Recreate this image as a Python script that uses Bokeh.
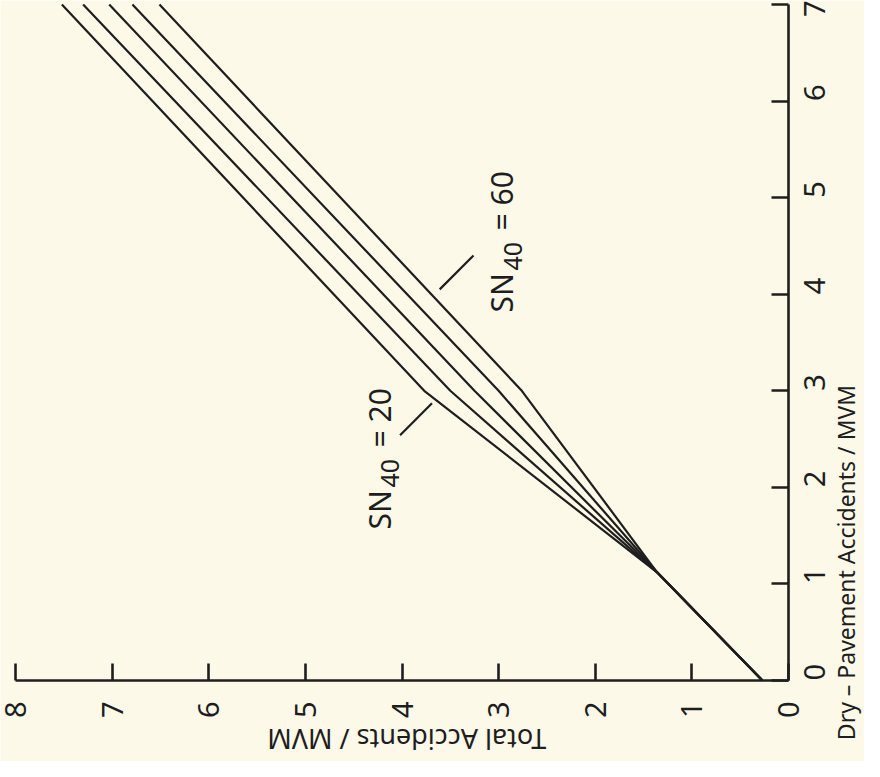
import math
from bokeh.plotting import figure
from bokeh.models import Range1d, FixedTicker, Label, ColumnDataSource
from bokeh.embed import file_html
from bokeh.resources import INLINE

# ---- data ----
dry_points = [0.0, 1.12, 3.0, 7.0]          # Dry-pavement accidents / MVM
sn_levels = ["20", "30", "40", "50", "60"]  # SN40 values
total_sn20 = [0.27, 1.36, 3.77, 7.52]       # Total accidents / MVM
total_sn30 = [0.27, 1.36, 3.50, 7.30]
total_sn40 = [0.27, 1.36, 3.25, 7.03]
total_sn50 = [0.27, 1.36, 3.00, 6.79]
total_sn60 = [0.27, 1.36, 2.76, 6.51]
total_ticks = [0, 1, 2, 3, 4, 5, 6, 7, 8]
dry_ticks = [0, 1, 2, 3, 4, 5, 6, 7]

BG = "#FDF9E8"
INK = "#1E1E1E"
FONT = "Noto Sans"

W, H = 864, 761
# pixel layout of the axes inside the canvas (canvas starts at page 8,8)
X_TOT8, X_TOT0 = 15, 788      # canvas x of total=8 and total=0
Y_DRY7, Y_DRY0 = 4, 680       # canvas y of dry=7 and dry=0
kx = (X_TOT0 - X_TOT8) / 8.0
ky = (Y_DRY0 - Y_DRY7) / 7.0
x_start = 8 + X_TOT8 / kx
x_end = -(W - X_TOT0) / kx
y_end = 7 + Y_DRY7 / ky
y_start = -(H - Y_DRY0) / ky

# chart is drawn rotated 90 deg CCW: horizontal = total (reversed), vertical = dry
p = figure(width=W, height=H,
           x_range=Range1d(x_start, x_end), y_range=Range1d(y_start, y_end),
           x_axis_location="below", y_axis_location="right",
           output_backend="svg", toolbar_location=None,
           min_border=0, min_border_left=0, min_border_right=0,
           min_border_top=0, min_border_bottom=0)
p.background_fill_color = BG
p.border_fill_color = BG
p.outline_line_color = None
p.xgrid.visible = False
p.ygrid.visible = False

p.xaxis[0].fixed_location = 0
p.xaxis[0].bounds = (0, 8)
p.yaxis[0].fixed_location = 0
p.yaxis[0].bounds = (0, 7)

for ax, ticks, standoff in ((p.xaxis[0], total_ticks, 21), (p.yaxis[0], dry_ticks, 26)):
    ax.ticker = FixedTicker(ticks=ticks)
    ax.axis_line_width = 2.6
    ax.axis_line_color = INK
    ax.major_tick_in = 17
    ax.major_tick_out = 0
    ax.major_tick_line_width = 2.6
    ax.major_tick_line_color = INK
    ax.minor_tick_line_color = None
    ax.major_label_orientation = math.pi / 2
    ax.major_label_text_font = FONT
    ax.major_label_text_font_size = "29px"
    ax.major_label_text_line_height = 1.0
    ax.major_label_text_color = INK
    ax.major_label_standoff = standoff

for tot in (total_sn20, total_sn30, total_sn40, total_sn50, total_sn60):
    src = ColumnDataSource(dict(dry=dry_points, total=tot))
    p.line(x="total", y="dry", source=src, line_color=INK, line_width=2.2)

# leader lines for the SN labels (total, dry)
lead_20 = dict(x0=[4.02], y0=[2.54], x1=[3.69], y1=[2.87])
lead_60 = dict(x0=[3.61], y0=[4.05], x1=[3.26], y1=[4.40])
for ld in (lead_20, lead_60):
    p.segment(x0="x0", y0="y0", x1="x1", y1="y1", source=ColumnDataSource(ld),
              line_color=INK, line_width=2.2)

def add_text(txt, x, y, size, angle=math.pi / 2, align="left", baseline="alphabetic"):
    p.add_layout(Label(x=x, y=y, text=txt, angle=angle, text_font=FONT,
                       text_font_size=size, text_color=INK,
                       text_align=align, text_baseline=baseline))

# SN40 = 20
add_text("SN", 4.237, 1.564, "30px")
add_text("40", 4.12, 1.999, "25px")
add_text("= " + sn_levels[0], 4.237, 2.413, "30px")
# SN40 = 60
add_text("SN", 2.969, 3.811, "30px")
add_text("40", 2.852, 4.246, "25px")
add_text("= " + sn_levels[-1], 2.969, 4.660, "30px")

# axis titles
add_text("Dry \u2013 Pavement Accidents / MVM", -0.60, 1.222, "23px",
         angle=math.pi / 2, align="center", baseline="middle")
add_text("Total Accidents / MVM", 3.95, -0.61, "27px",
         angle=math.pi, align="center", baseline="middle")

open("out.html", "w").write(file_html(p, INLINE))
